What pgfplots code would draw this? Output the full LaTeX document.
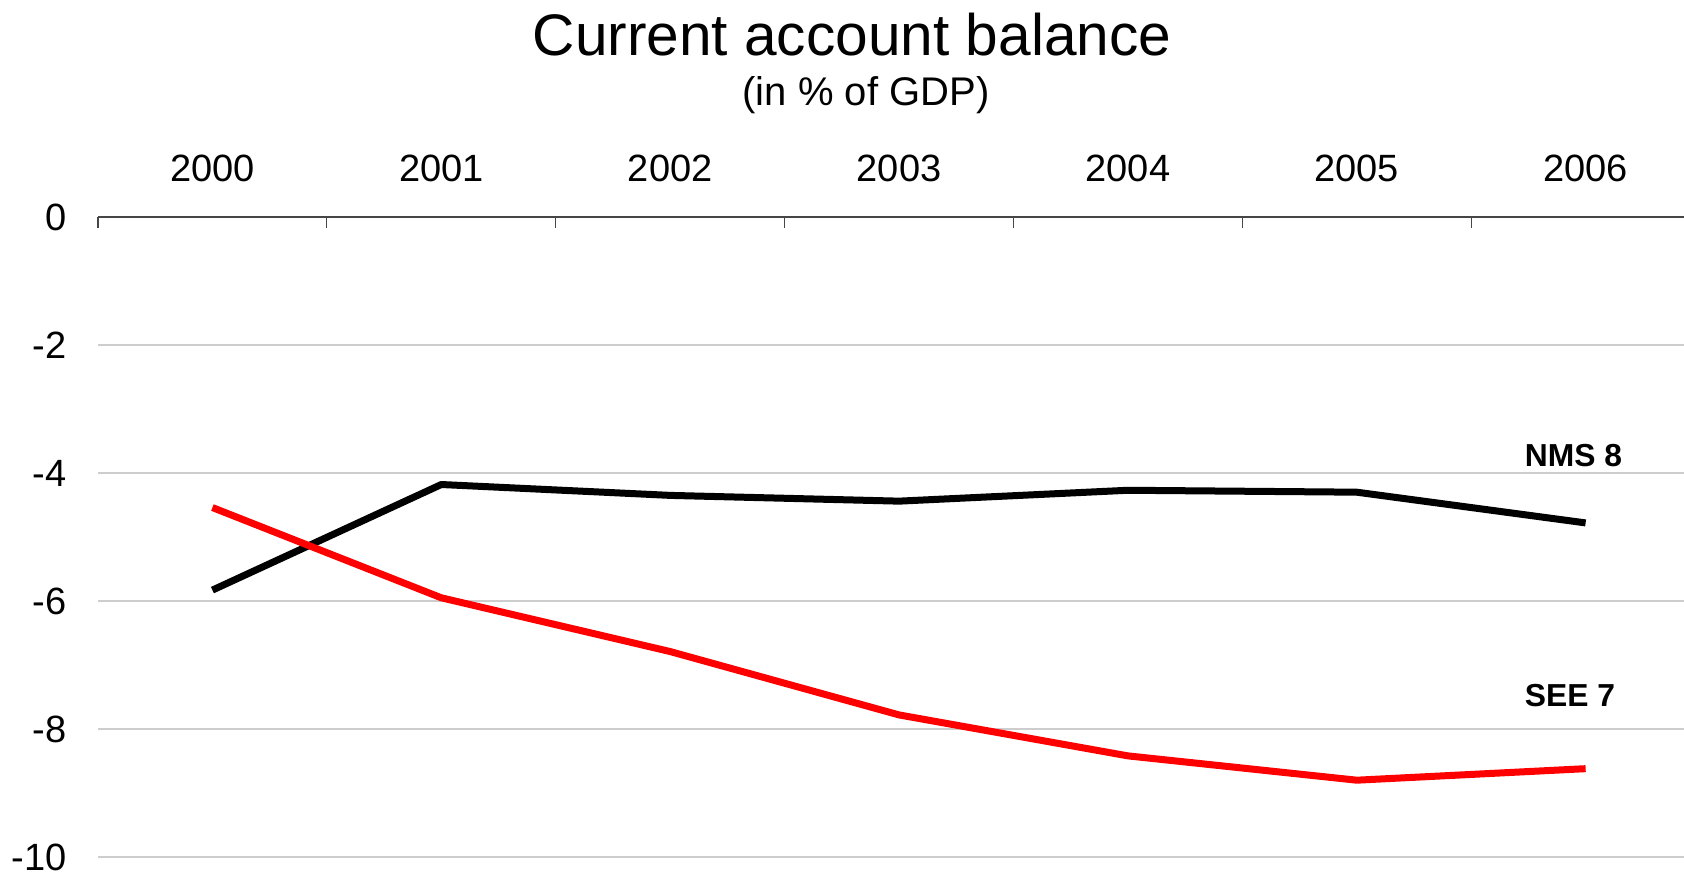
\documentclass[border=0pt]{standalone}
\usepackage{pgfplots}
\pgfplotsset{compat=1.18}
\usepackage{fontspec}
\setmainfont{Liberation Sans}
\definecolor{seered}{RGB}{255,0,0}
\definecolor{gridgray}{RGB}{205,205,205}
\definecolor{axgray}{RGB}{70,70,70}
\begin{document}
\begin{tikzpicture}
\begin{axis}[
  name=ax,
  at={(0pt,0pt)}, anchor=south west,
  scale only axis=true,
  width=793pt, height=320pt,
  xmin=-0.5, xmax=6.43,
  ymin=-10, ymax=0,
  separate axis lines,
  axis x line*=top,
  axis y line*=left,
  y axis line style={draw=none},
  x axis line style={draw=axgray, line width=0.7pt, -},
  xtick={0,1,2,3,4,5,6},
  xticklabels={2000,2001,2002,2003,2004,2005,2006},
  minor xtick={-0.5,0.5,1.5,2.5,3.5,4.5,5.5},
  major x tick style={draw=none},
  minor x tick style={draw=axgray, line width=0.6pt},
  minor tick length=5.5pt,
  tick align=inside,
  ytick={-10,-8,-6,-4,-2,0},
  yticklabels={-10,-8,-6,-4,-2,0},
  ytick style={draw=none},
  ymajorgrids=true,
  major grid style={draw=gridgray, line width=0.6pt},
  xticklabel style={font=\fontsize{19}{22}\selectfont, anchor=base, yshift=17.5pt},
  yticklabel style={font=\fontsize{19}{22}\selectfont, anchor=east, inner sep=0pt, xshift=-15.5pt},
  clip=false,
]
\addplot[black, line width=3.5pt, line join=round] coordinates {
  (0,-5.83) (1,-4.18) (2,-4.35) (3,-4.44) (4,-4.27) (5,-4.30) (6,-4.78)
};
\addplot[seered, line width=3.5pt, line join=round] coordinates {
  (0,-4.54) (1,-5.95) (2,-6.79) (3,-7.78) (4,-8.42) (5,-8.80) (6,-8.62)
};
\node[anchor=west, inner sep=0pt, font=\fontsize{15.9}{18}\selectfont\bfseries] at (axis cs:5.733,-3.72) {NMS 8};
\node[anchor=west, inner sep=0pt, font=\fontsize{15.9}{18}\selectfont\bfseries] at (axis cs:5.733,-7.48) {SEE 7};
\end{axis}
\node[anchor=base, inner sep=0pt, font=\fontsize{29.3}{34}\selectfont] at (377pt,400.5pt) {Current account balance};
\node[anchor=base, inner sep=0pt, font=\fontsize{20}{24}\selectfont] at (384pt,375.5pt) {(in \% of GDP)};
\pgfresetboundingbox
\path[use as bounding box] (-49pt,-9.5pt) rectangle ++(842pt,438pt);
\end{tikzpicture}
\end{document}
